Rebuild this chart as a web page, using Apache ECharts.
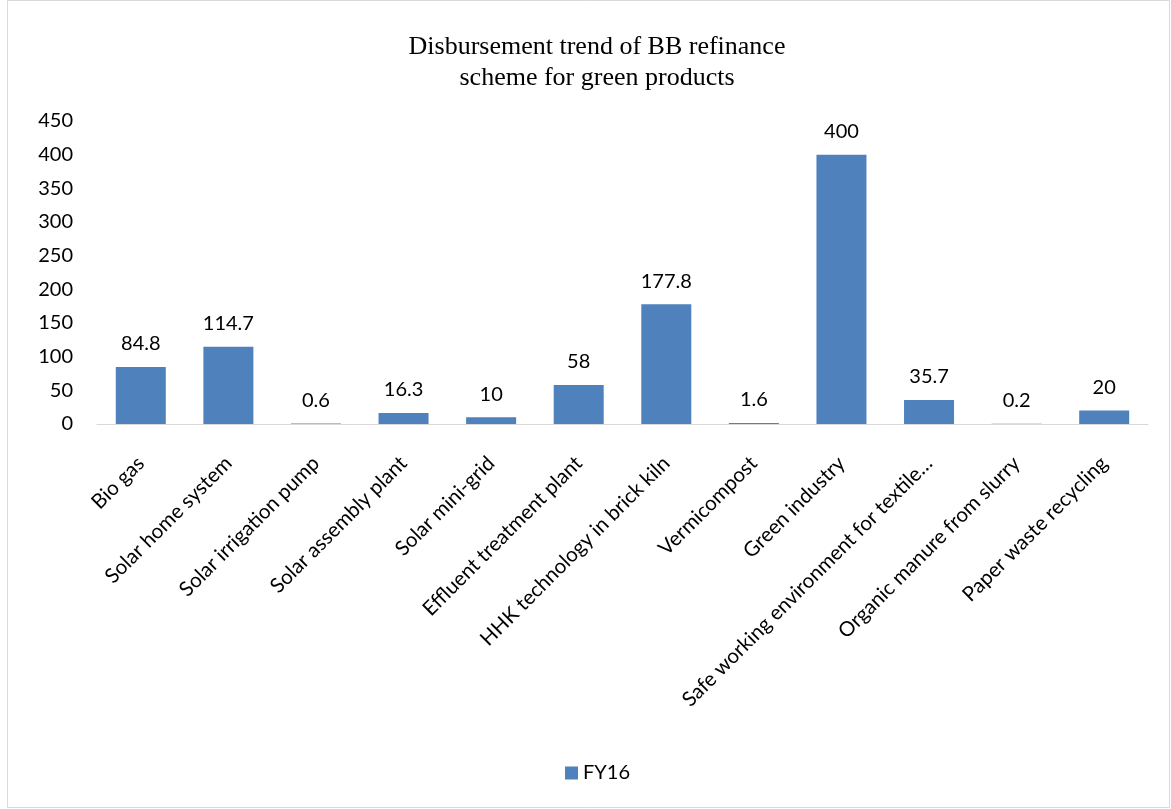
<!DOCTYPE html>
<html><head><meta charset="utf-8">
<script src="https://cdn.jsdelivr.net/npm/echarts@6/dist/echarts.min.js"></script>
<style>html,body{margin:0;padding:0;background:#fff}#c{width:1171px;height:809px}</style>
</head><body><div id="c"></div>
<script>
const categories = ["Bio gas","Solar home system","Solar irrigation pump","Solar assembly plant","Solar mini-grid","Effluent treatment plant","HHK technology in brick kiln","Vermicompost","Green industry","Safe working environment for textile…","Organic manure from slurry","Paper waste recycling"];
const fy16 = [84.8,114.7,0.6,16.3,10,58,177.8,1.6,400,35.7,0.2,20];
const yTicks = {min:0,max:450,interval:50};
const chart = echarts.init(document.getElementById('c'));
const font = 'Lato, "Liberation Sans", Arial, sans-serif';
chart.setOption({
  animation:false,
  title:{text:'Disbursement trend of BB refinance\nscheme for green products',left:592,textAlign:'center',top:27,
    textStyle:{fontFamily:'"Liberation Serif","Times New Roman",serif',fontWeight:'normal',fontSize:26,color:'#000',lineHeight:31}},
  graphic:[{type:'rect',shape:{x:7.5,y:0.5,width:1162,height:807},style:{fill:'none',stroke:'#d9d9d9',lineWidth:1},silent:true}],
  legend:{bottom:21,left:560,icon:'rect',itemWidth:13,itemHeight:13,itemGap:8,
    textStyle:{fontFamily:font,fontSize:20,color:'#000'},data:['FY16']},
  grid:{left:97,right:23,top:121,bottom:385,containLabel:false},
  xAxis:{type:'category',data:categories,
    axisLine:{lineStyle:{color:'#d9d9d9',width:1}},axisTick:{show:false},
    axisLabel:{rotate:45,interval:0,margin:36,fontFamily:font,fontSize:20.5,color:'#000'}},
  yAxis:{type:'value',min:yTicks.min,max:yTicks.max,interval:yTicks.interval,
    splitLine:{show:false},axisLine:{show:false},axisTick:{show:false},
    axisLabel:{margin:24,fontFamily:font,fontSize:20,color:'#000'}},
  series:[{name:'FY16',type:'bar',data:fy16,barWidth:50,itemStyle:{color:'#4F81BD'},
    label:{show:true,position:'top',distance:13,fontFamily:font,fontSize:20,color:'#000'}}]
});
</script></body></html>
